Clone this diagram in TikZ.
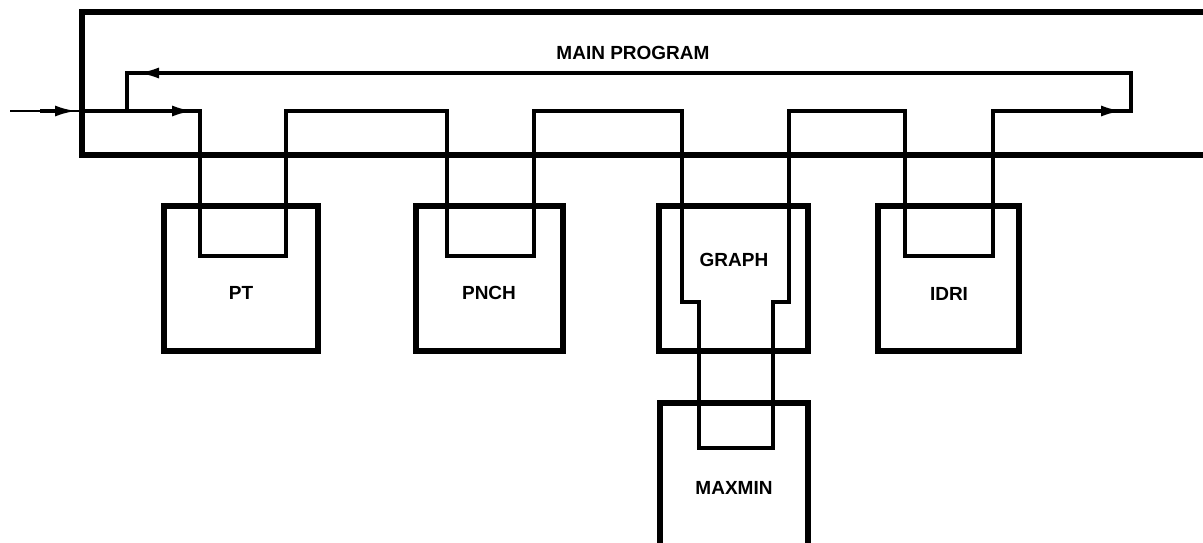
\documentclass[tikz,border=0pt]{standalone}
\usepackage{fontspec}
\setmainfont{Liberation Sans}
\usetikzlibrary{arrows.meta,positioning}

\begin{document}
\begin{tikzpicture}[x=1pt,y=-1pt,every node/.style={font=\bfseries\fontsize{19}{23}\selectfont},
  frame/.style={line width=6pt,line join=miter},
  modbox/.style={draw,line width=5.5pt,minimum height=145pt,inner sep=0pt},
  flow/.style={line width=3.5pt},
  arrowtip/.style={line width=3.5pt,-{Latex[length=22pt,width=11pt]}}]
  \useasboundingbox (0,0) rectangle (1203,542);
  % main program frame, open to the right
  \draw[frame] (1215,12) -| (82,155) -- (1215,155);
  \node (main) at (633,53) {MAIN PROGRAM};
  % subroutines
  \foreach \nm/\cx/\bw in {pt/241/154,pnch/489.5/147,graph/733.5/149,idri/948.5/141}
    \node[modbox,minimum width=\bw pt] (\nm) at (\cx,278.5) {};
  \draw[line width=5.5pt] (660,550) |- (808,403) -- (808,550);
  \node (ptl) at (241,293) {PT};
  \node (pnchl) at (489,293) {PNCH};
  \node (graphl) at (734,260) {GRAPH};
  \node (idril) at (949,294) {IDRI};
  \node (maxminl) at (734,488) {MAXMIN};
  % control flow
  \draw[line width=2.8pt] (10,111) -- (82,111);
  \draw[flow] (82,111) -- (200,111) |- (286,256) |- (447,111) |- (534,256) |- (682,111)
    |- (699,302) |- (773,448) |- (789,302) |- (905,111) |- (993,256) |- (1131,111)
    |- (127,73) -- (127,111);
  \draw[arrowtip] (40,111) -- (77,111);
  \draw[arrowtip] (150,111) -- (194,111);
  \draw[arrowtip] (180,73) -- (137,73);
  \draw[arrowtip] (1080,111) -- (1123,111);
\end{tikzpicture}
\end{document}
